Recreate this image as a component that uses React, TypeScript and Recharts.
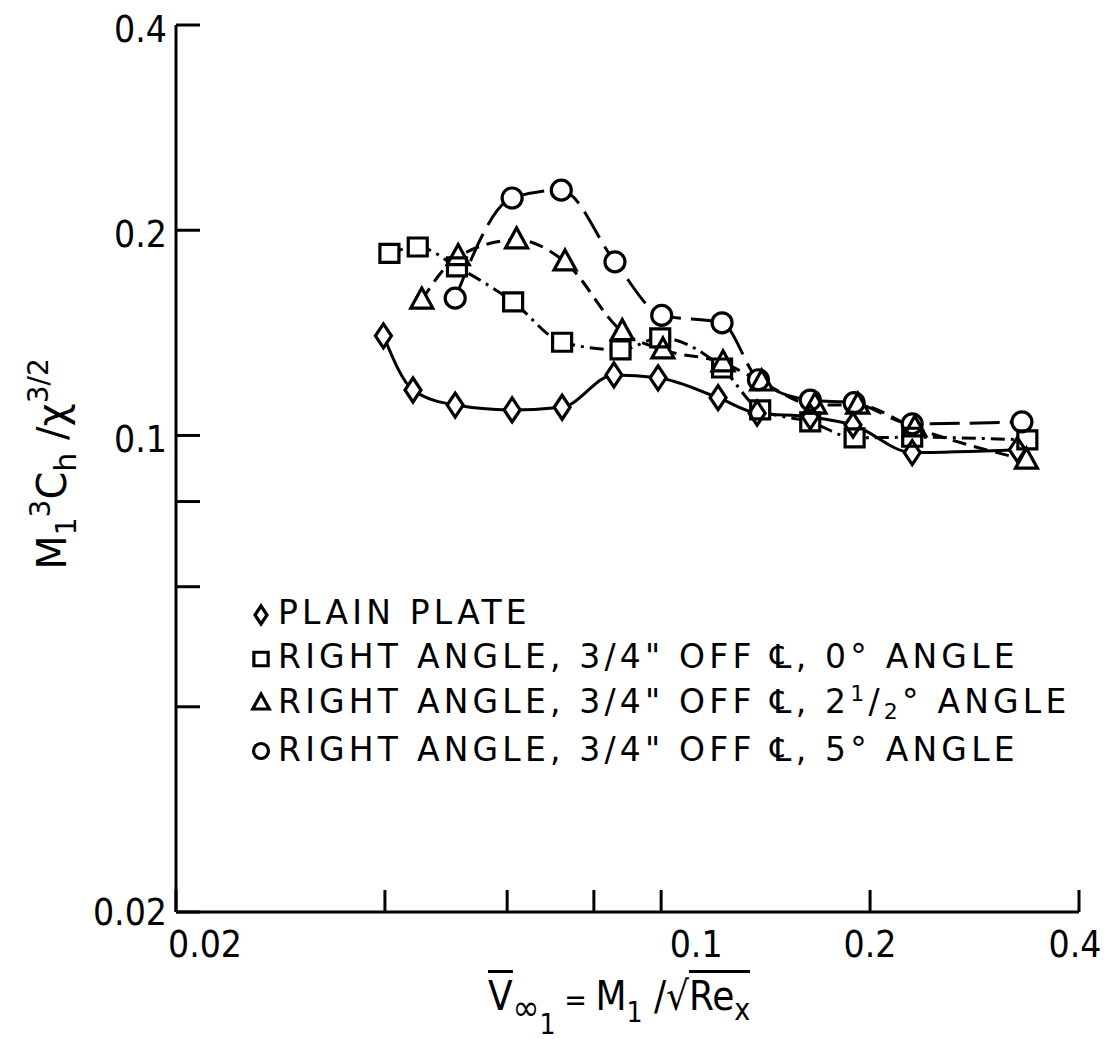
import { ComposedChart, Line, Scatter, XAxis, YAxis } from 'recharts';

// axis ticks (log-log, both axes 0.02 .. 0.4)
const xTicks = [0.02, 0.04, 0.06, 0.08, 0.1, 0.2, 0.4];
const yTicks = [0.02, 0.04, 0.06, 0.08, 0.1, 0.2, 0.4];
const labelledTicks = ['0.02', '0.1', '0.2', '0.4'];

// plain plate (diamonds)
const plainX = [0.0398, 0.0439, 0.0505, 0.061, 0.072, 0.0855, 0.099, 0.1208, 0.1375, 0.164, 0.189, 0.23, 0.326];
const plainY = [0.14, 0.1166, 0.1108, 0.109, 0.11, 0.1227, 0.1215, 0.1136, 0.1078, 0.1065, 0.1036, 0.0944, 0.0953];

// right angle, 0 deg (squares)
const sq0X = [0.0406, 0.0446, 0.0508, 0.0612, 0.072, 0.0874, 0.0997, 0.1224, 0.1389, 0.164, 0.19, 0.23, 0.337];
const sq0Y = [0.185, 0.189, 0.1767, 0.157, 0.137, 0.1335, 0.139, 0.1256, 0.109, 0.1047, 0.0992, 0.0994, 0.0985];

// right angle, 2 1/2 deg (triangles)
const tri25X = [0.0452, 0.051, 0.0619, 0.0727, 0.0879, 0.1006, 0.1228, 0.1396, 0.1666, 0.192, 0.232, 0.336];
const tri25Y = [0.158, 0.183, 0.1936, 0.1797, 0.142, 0.1335, 0.1278, 0.1198, 0.1108, 0.1108, 0.1026, 0.092];

// right angle, 5 deg (circles)
const circ5X = [0.0505, 0.061, 0.0718, 0.0858, 0.1002, 0.1224, 0.1381, 0.164, 0.1897, 0.23, 0.331];
const circ5Y = [0.159, 0.223, 0.229, 0.1797, 0.15, 0.1463, 0.1207, 0.1127, 0.1117, 0.104, 0.1047];

const zip = (xs: number[], ys: number[]) => xs.map((x, i) => ({ x, y: ys[i] }));

const FONT = '"DejaVu Sans Condensed", "DejaVu Sans", sans-serif';
const WIDE = '"DejaVu Sans", sans-serif';
const INK = '#000';

type Kind = 'diamond' | 'square' | 'triangle' | 'circle';

const series: { kind: Kind; data: { x: number; y: number }[]; dash?: string }[] = [
  { kind: 'diamond', data: zip(plainX, plainY) },
  { kind: 'square', data: zip(sq0X, sq0Y), dash: '14 6 3 6' },
  { kind: 'triangle', data: zip(tri25X, tri25Y), dash: '14 8' },
  { kind: 'circle', data: zip(circ5X, circ5Y), dash: '30 10' },
];

function Marker({ kind, cx, cy, s = 1, fill, stroke }: { kind: Kind; cx: number; cy: number; s?: number; fill: string; stroke: string }) {
  const sw = stroke === 'none' ? 0 : 3.2;
  if (kind === 'circle') return <circle cx={cx} cy={cy} r={10 * s} fill={fill} stroke={stroke} strokeWidth={sw} />;
  let d = '';
  if (kind === 'diamond') d = `M${cx},${cy - 12 * s} L${cx + 8 * s},${cy} L${cx},${cy + 12 * s} L${cx - 8 * s},${cy} Z`;
  if (kind === 'square') d = `M${cx - 9.5 * s},${cy - 9 * s} h${19 * s} v${18 * s} h${-19 * s} Z`;
  if (kind === 'triangle') d = `M${cx},${cy - 12 * s} L${cx + 11 * s},${cy + 8 * s} L${cx - 11 * s},${cy + 8 * s} Z`;
  return <path d={d} fill={fill} stroke={stroke} strokeWidth={sw} strokeLinejoin="miter" />;
}

const XTick = (props: any) => {
  const { x, y, payload } = props;
  const v = payload.value;
  const label = labelledTicks.includes(String(v)) ? String(v) : null;
  const dx = v === 0.02 ? 29 : v === 0.1 ? 35 : v === 0.4 ? -4 : 0;
  return (
    <g>
      <line x1={x} y1={y} x2={x} y2={y - 22} stroke={INK} strokeWidth={3} />
      {label && (
        <text x={x + dx} y={y + 45} textAnchor="middle" fontSize={37} fontFamily={FONT} fill={INK}>
          {label}
        </text>
      )}
    </g>
  );
};

const YTick = (props: any) => {
  const { x, y, payload } = props;
  const v = payload.value;
  const label = labelledTicks.includes(String(v)) ? String(v) : null;
  const dy = v === 0.02 ? 13 : 17;
  return (
    <g>
      <line x1={x} y1={y} x2={x + 24} y2={y} stroke={INK} strokeWidth={3} />
      {label && (
        <text x={x - 9} y={y + dy} textAnchor="end" fontSize={37} fontFamily={FONT} fill={INK}>
          {label}
        </text>
      )}
    </g>
  );
};

const LegendIcon = ({ kind }: { kind: Kind }) => (
  <svg width={22} height={26} style={{ verticalAlign: 'middle', marginRight: 6 }}>
    <Marker kind={kind} cx={11} cy={13} s={0.75} fill="none" stroke={INK} />
  </svg>
);

const legendRows: { kind: Kind; text: React.ReactNode }[] = [
  { kind: 'diamond', text: 'PLAIN PLATE' },
  { kind: 'square', text: <>RIGHT ANGLE, 3/4" OFF ℄, 0° ANGLE</> },
  {
    kind: 'triangle',
    text: (
      <>
        RIGHT ANGLE, 3/4" OFF ℄, 2<span style={{ fontSize: 22, position: 'relative', top: -12 }}>1</span>/
        <span style={{ fontSize: 22, position: 'relative', top: 6 }}>2</span>° ANGLE
      </>
    ),
  },
  { kind: 'circle', text: <>RIGHT ANGLE, 3/4" OFF ℄, 5° ANGLE</> },
];

export default function App() {
  return (
    <div style={{ position: 'relative', width: 1100, height: 1040, background: '#fff', fontFamily: FONT, color: INK }}>
      <ComposedChart width={1100} height={1040} margin={{ top: 17, right: 29, bottom: 96, left: 108 }}>
        <XAxis
          dataKey="x"
          type="number"
          scale="log"
          domain={[0.02, 0.4]}
          allowDataOverflow
          ticks={xTicks}
          interval={0}
          height={40}
          tickSize={0}
          tickMargin={0}
          tickLine={false}
          tick={<XTick />}
          axisLine={{ stroke: INK, strokeWidth: 3 }}
        />
        <YAxis
          dataKey="y"
          type="number"
          scale="log"
          domain={[0.02, 0.4]}
          allowDataOverflow
          ticks={yTicks}
          interval={0}
          width={60}
          tickSize={0}
          tickMargin={0}
          tickLine={false}
          tick={<YTick />}
          axisLine={{ stroke: INK, strokeWidth: 3 }}
        />
        {series.map((s) => (
          <Line
            key={'l-' + s.kind}
            data={s.data}
            dataKey="y"
            type="monotone"
            stroke={INK}
            strokeWidth={3}
            strokeDasharray={s.dash}
            dot={false}
            activeDot={false}
            isAnimationActive={false}
          />
        ))}
        {series.map((s) => (
          <Scatter
            key={'f-' + s.kind}
            data={s.data}
            dataKey="y"
            isAnimationActive={false}
            shape={(p: any) => <Marker kind={s.kind} cx={p.cx} cy={p.cy} fill="#fff" stroke="none" />}
          />
        ))}
        {series.map((s) => (
          <Scatter
            key={'o-' + s.kind}
            data={s.data}
            dataKey="y"
            isAnimationActive={false}
            shape={(p: any) => <Marker kind={s.kind} cx={p.cx} cy={p.cy} fill="none" stroke={INK} />}
          />
        ))}
      </ComposedChart>

      {/* legend */}
      <div
        style={{
          position: 'absolute',
          left: 242,
          top: 583,
          fontFamily: WIDE,
          fontSize: 33,
          lineHeight: '44.3px',
          whiteSpace: 'nowrap',
          letterSpacing: 4.2,
        }}
      >
        {legendRows.map((r) => (
          <div key={r.kind}>
            <LegendIcon kind={r.kind} />
            {r.text}
          </div>
        ))}
      </div>

      {/* y axis title */}
      <div
        style={{
          position: 'absolute',
          left: 44,
          top: 456,
          transform: 'translate(-50%, -50%) rotate(-90deg)',
          fontFamily: WIDE,
          fontSize: 40,
          whiteSpace: 'nowrap',
          lineHeight: 1,
        }}
      >
        M<span style={{ fontSize: 28, position: 'relative', top: 10 }}>1</span>
        <span style={{ fontSize: 28, position: 'relative', top: -16 }}>3</span>C
        <span style={{ fontSize: 30, position: 'relative', top: 10 }}>h</span> /χ
        <span style={{ fontSize: 28, position: 'relative', top: -18 }}>3/2</span>
      </div>

      {/* x axis title */}
      <div style={{ position: 'absolute', left: 480, top: 968, fontSize: 40, whiteSpace: 'nowrap', lineHeight: 1 }}>
        <span style={{ borderTop: '3px solid #000' }}>V</span>
        <span style={{ fontSize: 36, position: 'relative', top: 10 }}>∞</span>
        <span style={{ fontSize: 28, position: 'relative', top: 24 }}>1</span>
        <span style={{ fontSize: 30 }}> = </span>M
        <span style={{ fontSize: 28, position: 'relative', top: 12 }}>1</span> /√
        <span style={{ borderTop: '3px solid #000' }}>
          Re<span style={{ fontSize: 30, position: 'relative', top: 10 }}>x</span>
        </span>
      </div>
    </div>
  );
}
